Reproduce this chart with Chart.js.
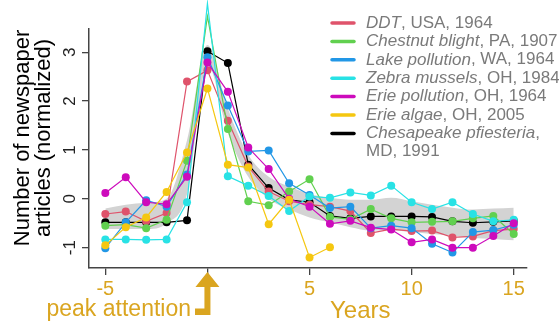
<!DOCTYPE html>
<html>
<head>
<meta charset="utf-8">
<script src="https://cdn.jsdelivr.net/npm/chart.js@4.4.0/dist/chart.umd.min.js"></script>
<style>
  body { margin:0; background:#fff; }
  #wrap { width:559px; height:321px; }
</style>
</head>
<body>
<div id="wrap"><canvas id="c" width="559" height="321"></canvas></div>
<script>
// years relative to peak attention
const years = [-5,-4,-3,-2,-1,0,1,2,3,4,5,6,7,8,9,10,11,12,13,14,15];

const seriesNames  = ["DDT","Chestnut blight","Lake pollution","Zebra mussels","Erie pollution","Erie algae","Chesapeake pfiesteria"];
const seriesPlaces = [", USA, 1964",", PA, 1907",", WA, 1964",", OH, 1984",", OH, 1964",", OH, 2005",","];

const ddt       = [-0.31,-0.26,-0.46,-0.29,2.40,2.63,1.60,0.66,0.15,-0.05,-0.12,-0.16,-0.25,-0.70,-0.62,-0.66,-0.65,-0.79,-0.77,-0.65,-0.62];
const chestnut  = [-0.55,-0.53,-0.60,-0.43,0.78,3.74,1.43,-0.05,-0.13,0.15,0.40,-0.37,-0.42,-0.21,-0.40,-0.48,-0.47,-0.46,-0.40,-0.35,-0.72];
const lake      = [-1.01,-0.48,-0.03,-0.16,0.50,2.90,1.91,0.97,0.99,0.32,0.08,-0.19,-0.16,-0.60,-0.55,-0.60,-0.92,-1.10,-0.68,-0.64,-0.53];
const zebra     = [-0.83,-0.83,-0.84,-0.83,-0.07,4.00,0.46,0.27,0.06,-0.25,0.05,0.02,0.13,0.07,0.27,-0.07,-0.21,-0.07,-0.31,-0.46,-0.43];
const eriePoll  = [0.12,0.44,-0.07,-0.11,0.45,2.79,2.19,1.05,0.61,0.00,-0.16,-0.51,-0.45,-0.59,-0.63,-0.89,-0.83,-1.00,-1.00,-0.76,-0.50];
const erieAlgae = [-0.95,-0.58,-0.38,0.14,0.95,2.26,0.70,0.64,-0.52,-0.02,-1.20,-0.99];
const chesapeake= [-0.48,-0.48,-0.48,-0.48,-0.44,3.02,2.78,0.70,0.22,-0.02,-0.07,-0.35,-0.40,-0.36,-0.36,-0.36,-0.37,-0.46,-0.49,-0.47,-0.45];

// grey ribbon round the mean
const bandUpper = [-0.20,-0.12,-0.08,0.00,1.20,3.15,1.85,0.90,0.45,0.25,0.10,0.02,-0.02,-0.02,0.02,-0.05,-0.12,-0.18,-0.22,-0.20,-0.18];
const bandLower = [-0.62,-0.62,-0.62,-0.50,0.10,2.75,1.35,0.45,0.00,-0.22,-0.38,-0.48,-0.58,-0.65,-0.65,-0.68,-0.72,-0.75,-0.80,-0.82,-0.85];

const xTicks = [-5,0,5,10,15];
const yTicks = [-1,0,1,2,3];

const seriesValues = [ddt, chestnut, lake, zebra, eriePoll, erieAlgae, chesapeake];
const colors = ["#DF536B","#61D04F","#2297E6","#28E2E5","#CD0BBC","#F5C710","#000000"];
const gold = "#DAA520";
const FONT = "'Liberation Sans', Arial, Helvetica, sans-serif";

const toXY = arr => arr.map((v, i) => ({x: years[i], y: v}));

const datasets = seriesValues.map((vals, i) => ({
  label: seriesNames[i],
  data: toXY(vals),
  borderColor: colors[i],
  backgroundColor: colors[i],
  borderWidth: 1.2,
  pointRadius: 4,
  pointBorderWidth: 0,
  tension: 0,
  clip: false,
  // black sits underneath, then legend order with Erie algae on top
  order: i === 6 ? 8 : 7 - i
}));

datasets.push({
  label: "band-up",
  data: toXY(bandUpper),
  borderWidth: 0,
  pointRadius: 0,
  backgroundColor: "#D3D3D3",
  cubicInterpolationMode: "monotone",
  fill: false,
  order: 20
});
datasets.push({
  label: "band-low",
  data: toXY(bandLower),
  borderWidth: 0,
  pointRadius: 0,
  backgroundColor: "#D3D3D3",
  cubicInterpolationMode: "monotone",
  fill: "-1",
  order: 20
});

// texts drawn on the canvas: y title, rotated y labels, legend, arrow
const decor = {
  id: "decor",
  afterDraw(chart) {
    const ctx = chart.ctx;
    const xs = chart.scales.x, ys = chart.scales.y;
    ctx.save();

    // y tick labels, rotated like R
    ctx.fillStyle = "#222";
    ctx.font = "17px " + FONT;
    ctx.textAlign = "center";
    ctx.textBaseline = "alphabetic";
    yTicks.forEach(v => {
      ctx.save();
      ctx.translate(75, ys.getPixelForValue(v));
      ctx.rotate(-Math.PI / 2);
      ctx.fillText(String(v), 0, 0);
      ctx.restore();
    });

    // y title
    ctx.fillStyle = "#000";
    ctx.font = "22px " + FONT;
    ctx.save();
    ctx.translate(29, 138);
    ctx.rotate(-Math.PI / 2);
    ctx.fillText("Number of newspaper", 0, 0);
    ctx.restore();
    ctx.save();
    ctx.translate(50, 138);
    ctx.rotate(-Math.PI / 2);
    ctx.fillText("articles (normalized)", 0, 0);
    ctx.restore();

    // x title
    ctx.fillStyle = gold;
    ctx.font = "24px " + FONT;
    ctx.textAlign = "left";
    ctx.fillText("Years", 330, 318);

    // peak attention + arrow
    const x0 = xs.getPixelForValue(0);
    ctx.font = "23px " + FONT;
    ctx.textAlign = "right";
    ctx.fillText("peak attention", 191, 316);
    ctx.beginPath();
    ctx.moveTo(x0, 272);
    ctx.lineTo(x0 + 12, 287);
    ctx.lineTo(x0 + 3, 287);
    ctx.lineTo(x0 + 3, 315);
    ctx.lineTo(195, 315);
    ctx.lineTo(195, 308.5);
    ctx.lineTo(x0 - 3, 308.5);
    ctx.lineTo(x0 - 3, 287);
    ctx.lineTo(x0 - 12, 287);
    ctx.closePath();
    ctx.fill();

    // legend
    ctx.textBaseline = "middle";
    ctx.textAlign = "left";
    const rowY = i => 23 + i * 18.4;
    seriesNames.forEach((name, i) => {
      const y = rowY(i);
      ctx.strokeStyle = colors[i];
      ctx.lineWidth = 3.5;
      ctx.lineCap = "round";
      ctx.beginPath();
      ctx.moveTo(332, y);
      ctx.lineTo(354, y);
      ctx.stroke();
      ctx.fillStyle = "#7a7a7a";
      ctx.font = "italic 17px " + FONT;
      ctx.fillText(name, 366, y);
      const w = ctx.measureText(name).width;
      ctx.font = "17px " + FONT;
      ctx.fillText(seriesPlaces[i], 366 + w, y);
    });
    ctx.fillText("MD, 1991", 366, rowY(7));

    ctx.restore();
  }
};

new Chart(document.getElementById("c"), {
  type: "line",
  data: { datasets },
  options: {
    responsive: false,
    animation: false,
    layout: { padding: { left: 0, right: 32, top: 29, bottom: 0 } },
    plugins: { legend: { display: false }, tooltip: { enabled: false } },
    scales: {
      x: {
        type: "linear",
        min: -5.8, max: 15.65,
        afterBuildTicks: s => { s.ticks = xTicks.map(v => ({ value: v })); },
        afterFit: s => { s.height = 53; },
        grid: { drawOnChartArea: false, drawTicks: true, tickLength: 7, color: "#444", lineWidth: 1.3 },
        border: { display: true, color: "#444", width: 1.5 },
        ticks: {
          color: gold,
          font: { family: FONT, size: 20 },
          padding: 2,
          maxRotation: 0,
          callback: v => (v === 0 ? "" : String(v))
        }
      },
      y: {
        type: "linear",
        min: -1.416, max: 3.477,
        afterBuildTicks: s => { s.ticks = yTicks.map(v => ({ value: v })); },
        afterFit: s => { s.width = 89; },
        grid: { drawOnChartArea: false, drawTicks: true, tickLength: 7, color: "#444", lineWidth: 1.3 },
        border: { display: true, color: "#444", width: 1.5 },
        ticks: { display: false }
      }
    }
  },
  plugins: [decor]
});
</script>
</body>
</html>
